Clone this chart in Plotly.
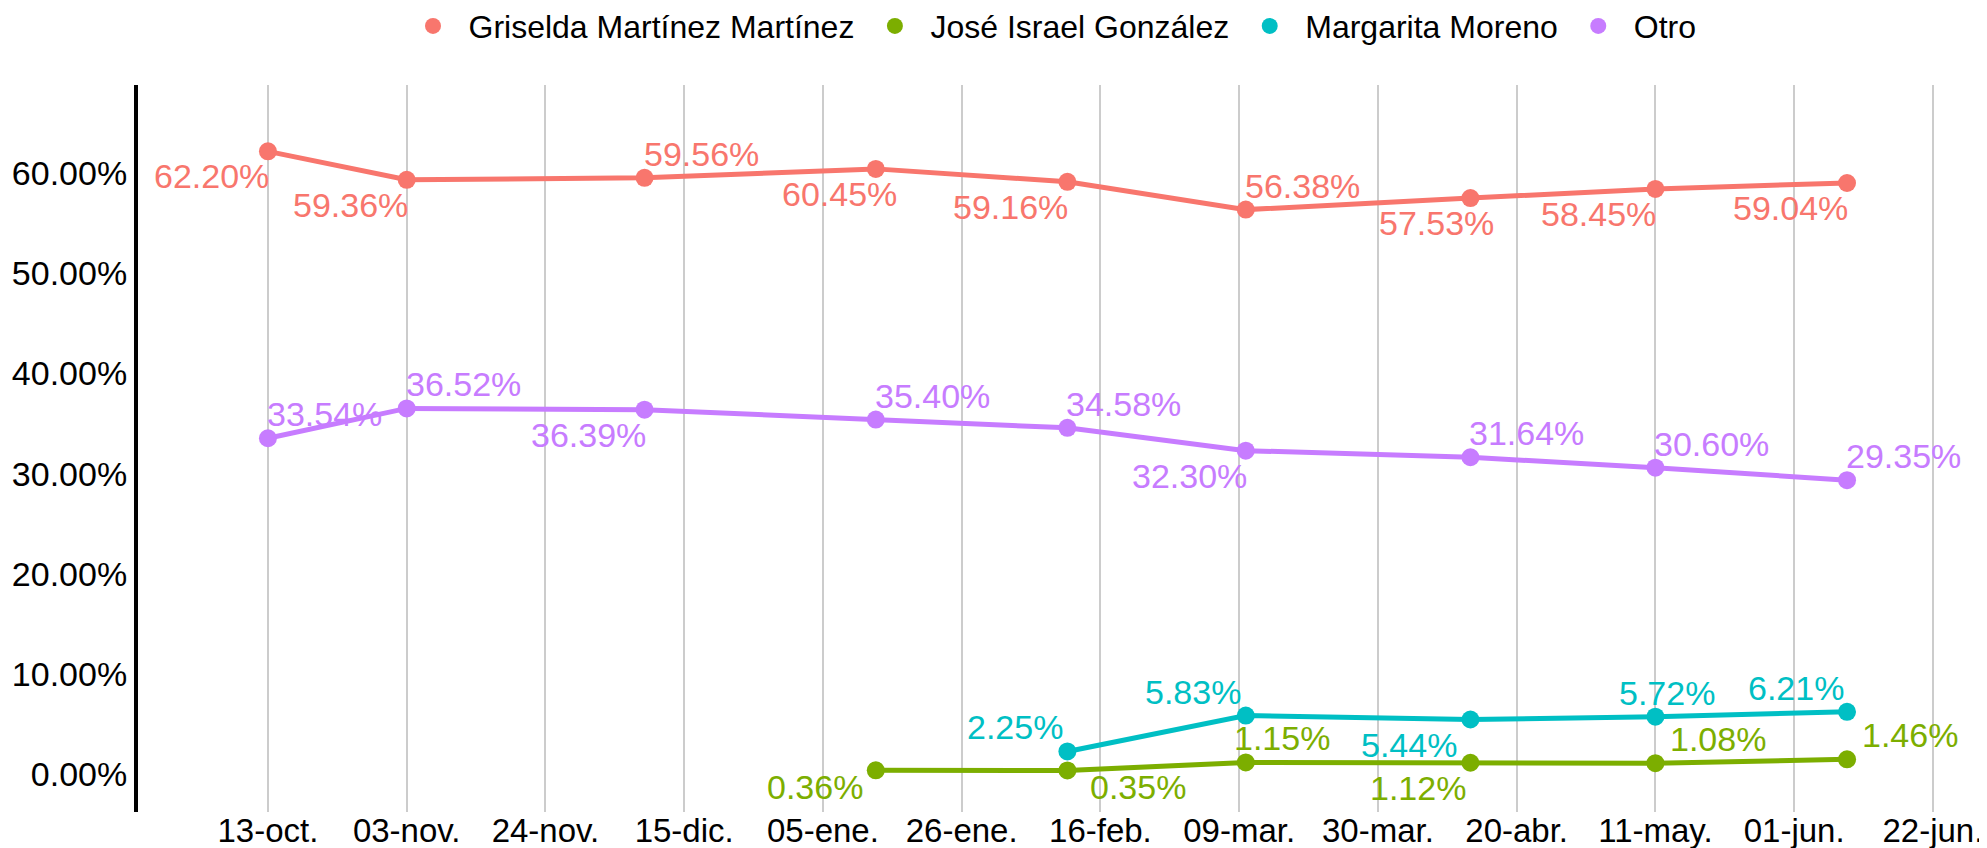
import plotly.graph_objects as go

# ---- data ----
dates_all = ["2024-10-13", "2024-11-03", "2024-12-09", "2025-01-13", "2025-02-11",
             "2025-03-10", "2025-04-13", "2025-05-11", "2025-06-09"]

griselda = [62.20, 59.36, 59.56, 60.45, 59.16, 56.38, 57.53, 58.45, 59.04]
otro = [33.54, 36.52, 36.39, 35.40, 34.58, 32.30, 31.64, 30.60, 29.35]

dates_jose = ["2025-01-13", "2025-02-11", "2025-03-10", "2025-04-13", "2025-05-11", "2025-06-09"]
jose = [0.36, 0.35, 1.15, 1.12, 1.08, 1.46]

dates_margarita = ["2025-02-11", "2025-03-10", "2025-04-13", "2025-05-11", "2025-06-09"]
margarita = [2.25, 5.83, 5.44, 5.72, 6.21]

tick_dates = ["2024-10-13", "2024-11-03", "2024-11-24", "2024-12-15", "2025-01-05",
              "2025-01-26", "2025-02-16", "2025-03-09", "2025-03-30", "2025-04-20",
              "2025-05-11", "2025-06-01", "2025-06-22"]
tick_labels = ["13-oct.", "03-nov.", "24-nov.", "15-dic.", "05-ene.", "26-ene.", "16-feb.",
               "09-mar.", "30-mar.", "20-abr.", "11-may.", "01-jun.", "22-jun."]
y_ticks = [0, 10, 20, 30, 40, 50, 60]
y_tick_labels = [f"{v:.2f}%" for v in y_ticks]

# ---- styles ----
FONT = "Liberation Sans, Arial, sans-serif"
TXT = 34

# label placement (style): position keyword + small pixel nudges
# TL/TR/TC = above-left/right/center, BL/BR = below-left/right
series = [
    ("Griselda Martínez Martínez", dates_all, griselda, "#F8766D",
     ["BL", "BL", "TR", "BL", "BL", "TR", "BL", "BL", "BL"],
     [0, 0, 0, 20, 0, 0, 23, 0, 0],
     [0, 0, 0, 0, 0, 0, 0, 0, 0]),
    ("José Israel González", dates_jose, jose, "#7CAE00",
     ["BL", "BR", "TR", "BL", "TR", "TR"],
     [-14, 24, -11, -5, 16, 16],
     [8, 8, 0, 0, 0, 0]),
    ("Margarita Moreno", dates_margarita, margarita, "#00BFC4",
     ["TL", "TL", "BL", "TC", "TL"],
     [-5, -6, -14, 12, -4],
     [0, 0, 0, 0, 0]),
    ("Otro", dates_all, otro, "#C77CFF",
     ["TR", "TR", "BL", "TR", "TR", "BL", "TR", "TR", "TR"],
     [0, 0, 0, 0, 0, 0, 0, 0, 0],
     [0, 0, 0, 0, 0, 0, 0, 0, 0]),
]

XANCHOR = {"L": "right", "R": "left", "C": "center"}
BASE_DX = {"L": 3, "R": -3, "C": 0}
YANCHOR = {"T": "bottom", "B": "top"}
BASE_DY = {"T": 3, "B": -4}

fig = go.Figure()
annotations = []
for name, xs, ys, color, pos, ndx, ndy in series:
    fig.add_trace(go.Scatter(
        x=xs, y=ys, name=name, mode="lines+markers",
        line=dict(color=color, width=5),
        marker=dict(color=color, size=18),
        cliponaxis=False, showlegend=False, legendgroup=name,
    ))
    for xv, yv, p, dx, dy in zip(xs, ys, pos, ndx, ndy):
        annotations.append(dict(
            x=xv, y=yv, xref="x", yref="y", text=f"{yv:.2f}%", showarrow=False,
            xanchor=XANCHOR[p[1]], yanchor=YANCHOR[p[0]],
            xshift=BASE_DX[p[1]] + dx, yshift=BASE_DY[p[0]] + dy,
            font=dict(color=color, size=TXT, family=FONT),
        ))

# legend entries: markers only
for name, xs, ys, color, *_ in series:
    fig.add_trace(go.Scatter(
        x=[None], y=[None], name=name, mode="markers",
        marker=dict(color=color, size=18), legendgroup=name, showlegend=True,
    ))

fig.update_layout(
    width=1987, height=848,
    paper_bgcolor="white", plot_bgcolor="white",
    margin=dict(l=130, r=34, t=77, b=44, autoexpand=False),
    font=dict(family=FONT, size=34, color="black"),
    showlegend=True,
    legend=dict(orientation="h", x=0.5, xanchor="center", y=1.081, yanchor="middle",
                font=dict(size=32, family=FONT, color="black"),
                itemwidth=61),
    annotations=annotations,
    xaxis=dict(
        type="date", automargin=False,
        range=["2024-09-23 08:00", "2025-06-26 06:00"],
        tickvals=tick_dates, ticktext=tick_labels,
        showgrid=True, gridcolor="#cccccc", gridwidth=2,
        showline=False, zeroline=False, ticks="",
        ticklabelstandoff=-4,
        tickfont=dict(size=33, family=FONT, color="black"),
    ),
    yaxis=dict(
        automargin=False,
        range=[-3.8, 68.83],
        tickvals=y_ticks, ticktext=y_tick_labels,
        showgrid=False, zeroline=False,
        showline=True, linecolor="black", linewidth=4,
        ticks="", tickfont=dict(size=34, family=FONT, color="black"),
    ),
)

fig.write_html("out.html")
